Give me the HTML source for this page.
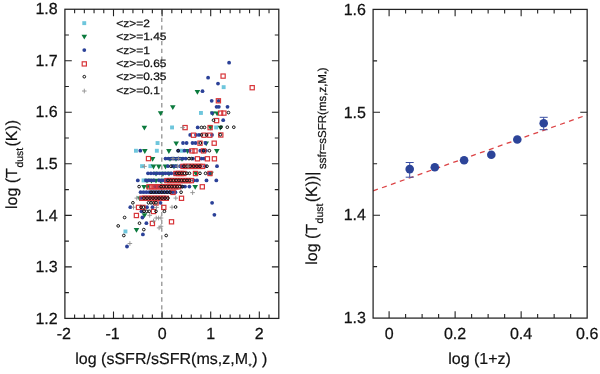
<!DOCTYPE html>
<html><head><meta charset="utf-8"><title>Figure</title>
<style>html,body{margin:0;padding:0;background:#fff}svg{display:block;will-change:transform;text-rendering:geometricPrecision}</style></head>
<body>
<svg width="600" height="374" viewBox="0 0 600 374" font-family='"Liberation Sans", sans-serif' fill="#111">
<rect width="600" height="374" fill="#fff"/>
<path d="M161.80 317.2 V9.25" stroke="#8e8e8e" stroke-width="1.25" stroke-dasharray="4.3 3.47" fill="none"/>
<path d="M74.62 318.4v-4.0M74.62 9.25v4.0M84.34 318.4v-4.0M84.34 9.25v4.0M94.06 318.4v-4.0M94.06 9.25v4.0M103.78 318.4v-4.0M103.78 9.25v4.0M113.50 318.4v-6.9M113.50 9.25v6.9M123.22 318.4v-4.0M123.22 9.25v4.0M132.94 318.4v-4.0M132.94 9.25v4.0M142.66 318.4v-4.0M142.66 9.25v4.0M152.38 318.4v-4.0M152.38 9.25v4.0M162.10 318.4v-6.9M162.10 9.25v6.9M171.82 318.4v-4.0M171.82 9.25v4.0M181.54 318.4v-4.0M181.54 9.25v4.0M191.26 318.4v-4.0M191.26 9.25v4.0M200.98 318.4v-4.0M200.98 9.25v4.0M210.70 318.4v-6.9M210.70 9.25v6.9M220.42 318.4v-4.0M220.42 9.25v4.0M230.14 318.4v-4.0M230.14 9.25v4.0M239.86 318.4v-4.0M239.86 9.25v4.0M249.58 318.4v-4.0M249.58 9.25v4.0M259.30 318.4v-6.9M259.30 9.25v6.9M269.02 318.4v-4.0M269.02 9.25v4.0M64.9 292.64h4.0M278.8 292.64h-4.0M64.9 266.87h6.9M278.8 266.87h-6.9M64.9 241.11h4.0M278.8 241.11h-4.0M64.9 215.35h6.9M278.8 215.35h-6.9M64.9 189.59h4.0M278.8 189.59h-4.0M64.9 163.82h6.9M278.8 163.82h-6.9M64.9 138.06h4.0M278.8 138.06h-4.0M64.9 112.30h6.9M278.8 112.30h-6.9M64.9 86.54h4.0M278.8 86.54h-4.0M64.9 60.77h6.9M278.8 60.77h-6.9M64.9 35.01h4.0M278.8 35.01h-4.0" stroke="#222" stroke-width="1.1" fill="none"/>
<rect x="64.9" y="9.25" width="213.90" height="309.15" fill="none" stroke="#222" stroke-width="1.25"/>
<g font-size="16px" stroke="#111" stroke-width="0.25">
<text transform="translate(57.7 323.5) scale(1.0 1)" text-anchor="end">1.2</text>
<text transform="translate(57.7 272.0) scale(1.0 1)" text-anchor="end">1.3</text>
<text transform="translate(57.7 220.5) scale(1.0 1)" text-anchor="end">1.4</text>
<text transform="translate(57.7 169.0) scale(1.0 1)" text-anchor="end">1.5</text>
<text transform="translate(57.7 117.4) scale(1.0 1)" text-anchor="end">1.6</text>
<text transform="translate(57.7 65.9) scale(1.0 1)" text-anchor="end">1.7</text>
<text transform="translate(57.7 14.4) scale(1.0 1)" text-anchor="end">1.8</text>
<text transform="translate(63.9 338.6) scale(1.0 1)" text-anchor="middle">-2</text>
<text transform="translate(112.5 338.6) scale(1.0 1)" text-anchor="middle">-1</text>
<text transform="translate(162.1 338.6) scale(1.0 1)" text-anchor="middle">0</text>
<text transform="translate(210.7 338.6) scale(1.0 1)" text-anchor="middle">1</text>
<text transform="translate(259.3 338.6) scale(1.0 1)" text-anchor="middle">2</text>
<text x="75.2" y="363.6" font-size="16px" letter-spacing="0.02" stroke="#111" stroke-width="0.2">log (sSFR/sSFR(ms,z,M<tspan font-size="8px" dy="5.5" dx="0.4">*</tspan><tspan dy="-5.5" dx="0.6">) )</tspan></text>
<text transform="translate(16.5 209) rotate(-90)" font-size="16px" stroke="#111" stroke-width="0.2">log (T<tspan font-size="10.5px" dy="6" dx="0.5">dust</tspan><tspan dy="-6" dx="1.2">(K))</tspan></text>
</g>
<g font-size="10.7px" stroke-width="0.25">
<rect x="82.3" y="21.2" width="3.9" height="3.9" fill="#6ec6dc"/>
<text stroke="#111" transform="translate(116.2 26.6) scale(1.12 1)">&lt;z&gt;=2</text>
<path d="M81.5 34.8h5.6L84.3 39.6z" fill="#0b7a3d"/>
<text stroke="#111" transform="translate(116.2 40.4) scale(1.12 1)">&lt;z&gt;=1.45</text>
<circle cx="84.3" cy="50.1" r="1.9" fill="#2b4198"/>
<text stroke="#111" transform="translate(116.2 53.5) scale(1.12 1)">&lt;z&gt;=1</text>
<rect x="82.2" y="61.8" width="4.2" height="4.2" fill="none" stroke="#d8363a" stroke-width="1.2"/>
<text stroke="#111" transform="translate(116.2 67.3) scale(1.12 1)">&lt;z&gt;=0.65</text>
<circle cx="84.3" cy="76.7" r="1.35" fill="none" stroke="#111" stroke-width="1.0"/>
<text stroke="#111" transform="translate(116.2 80.1) scale(1.12 1)">&lt;z&gt;=0.35</text>
<path d="M82.0 91.0h4.6M84.3 88.7v4.6" stroke="#8f8f8f" stroke-width="0.9" fill="none"/>
<text stroke="#111" transform="translate(116.2 94.4) scale(1.12 1)">&lt;z&gt;=0.1</text>
</g>
<g><rect x="221.7" y="85.2" width="3.9" height="3.9" fill="#6ec6dc"/><rect x="199.0" y="111.0" width="3.9" height="3.9" fill="#6ec6dc"/><rect x="170.1" y="125.5" width="3.9" height="3.9" fill="#6ec6dc"/><rect x="214.2" y="125.5" width="3.9" height="3.9" fill="#6ec6dc"/><rect x="155.6" y="141.1" width="3.9" height="3.9" fill="#6ec6dc"/><rect x="134.0" y="148.8" width="3.9" height="3.9" fill="#6ec6dc"/><rect x="154.9" y="148.8" width="3.9" height="3.9" fill="#6ec6dc"/><rect x="179.6" y="148.8" width="3.9" height="3.9" fill="#6ec6dc"/><rect x="140.1" y="164.2" width="3.9" height="3.9" fill="#6ec6dc"/><rect x="148.4" y="164.2" width="3.9" height="3.9" fill="#6ec6dc"/><rect x="141.6" y="178.5" width="3.9" height="3.9" fill="#6ec6dc"/><rect x="123.5" y="229.5" width="3.9" height="3.9" fill="#6ec6dc"/></g>
<g><path d="M194.6 89.9h5.6L197.4 94.7z" fill="#0b7a3d"/><path d="M170.0 105.2h5.6L172.8 110.0z" fill="#0b7a3d"/><path d="M157.8 111.3h5.6L160.6 116.1z" fill="#0b7a3d"/><path d="M210.0 111.4h5.6L212.8 116.2z" fill="#0b7a3d"/><path d="M214.3 111.4h5.6L217.1 116.2z" fill="#0b7a3d"/><path d="M141.6 125.8h5.6L144.4 130.6z" fill="#0b7a3d"/><path d="M217.6 125.8h5.6L220.4 130.6z" fill="#0b7a3d"/><path d="M207.8 125.8h5.6L210.6 130.6z" fill="#0b7a3d"/><path d="M173.4 141.4h5.6L176.2 146.2z" fill="#0b7a3d"/><path d="M203.4 141.4h5.6L206.2 146.2z" fill="#0b7a3d"/><path d="M142.0 149.1h5.6L144.8 153.9z" fill="#0b7a3d"/><path d="M166.1 149.1h5.6L168.9 153.9z" fill="#0b7a3d"/><path d="M184.7 149.1h5.6L187.5 153.9z" fill="#0b7a3d"/><path d="M214.0 149.1h5.6L216.8 153.9z" fill="#0b7a3d"/><path d="M149.8 157.0h5.6L152.6 161.8z" fill="#0b7a3d"/><path d="M167.2 157.0h5.6L170.0 161.8z" fill="#0b7a3d"/><path d="M173.2 157.0h5.6L176.0 161.8z" fill="#0b7a3d"/><path d="M179.2 157.0h5.6L182.0 161.8z" fill="#0b7a3d"/><path d="M150.7 164.6h5.6L153.5 169.4z" fill="#0b7a3d"/><path d="M156.0 164.6h5.6L158.8 169.4z" fill="#0b7a3d"/><path d="M162.7 164.6h5.6L165.5 169.4z" fill="#0b7a3d"/><path d="M171.2 164.6h5.6L174.0 169.4z" fill="#0b7a3d"/><path d="M193.2 171.7h5.6L196.0 176.5z" fill="#0b7a3d"/><path d="M208.2 171.7h5.6L211.0 176.5z" fill="#0b7a3d"/><path d="M153.2 171.7h5.6L156.0 176.5z" fill="#0b7a3d"/><path d="M160.2 171.7h5.6L163.0 176.5z" fill="#0b7a3d"/><path d="M166.2 171.7h5.6L169.0 176.5z" fill="#0b7a3d"/><path d="M144.2 178.8h5.6L147.0 183.6z" fill="#0b7a3d"/><path d="M148.7 178.8h5.6L151.5 183.6z" fill="#0b7a3d"/><path d="M153.2 178.8h5.6L156.0 183.6z" fill="#0b7a3d"/><path d="M157.7 178.8h5.6L160.5 183.6z" fill="#0b7a3d"/><path d="M162.2 178.8h5.6L165.0 183.6z" fill="#0b7a3d"/><path d="M141.2 185.0h5.6L144.0 189.8z" fill="#0b7a3d"/><path d="M144.7 185.0h5.6L147.5 189.8z" fill="#0b7a3d"/><path d="M192.4 185.0h5.6L195.2 189.8z" fill="#0b7a3d"/><path d="M136.8 196.5h5.6L139.6 201.3z" fill="#0b7a3d"/><path d="M141.7 213.3h5.6L144.5 218.1z" fill="#0b7a3d"/><path d="M133.7 228.0h5.6L136.5 232.8z" fill="#0b7a3d"/></g>
<g><circle cx="229.1" cy="62.7" r="1.9" fill="#2b4198"/><circle cx="208.1" cy="77.7" r="1.9" fill="#2b4198"/><circle cx="218.0" cy="83.6" r="1.9" fill="#2b4198"/><circle cx="202.5" cy="91.2" r="1.9" fill="#2b4198"/><circle cx="211.7" cy="100.8" r="1.9" fill="#2b4198"/><circle cx="218.6" cy="100.8" r="1.9" fill="#2b4198"/><circle cx="216.6" cy="106.8" r="1.9" fill="#2b4198"/><circle cx="218.8" cy="106.8" r="1.9" fill="#2b4198"/><circle cx="227.5" cy="106.8" r="1.9" fill="#2b4198"/><circle cx="212.0" cy="113.1" r="1.9" fill="#2b4198"/><circle cx="223.2" cy="120.2" r="1.9" fill="#2b4198"/><circle cx="197.7" cy="127.4" r="1.9" fill="#2b4198"/><circle cx="190.2" cy="134.9" r="1.9" fill="#2b4198"/><circle cx="196.0" cy="134.9" r="1.9" fill="#2b4198"/><circle cx="199.0" cy="134.9" r="1.9" fill="#2b4198"/><circle cx="212.0" cy="134.9" r="1.9" fill="#2b4198"/><circle cx="183.0" cy="143.0" r="1.9" fill="#2b4198"/><circle cx="186.6" cy="143.0" r="1.9" fill="#2b4198"/><circle cx="192.5" cy="143.0" r="1.9" fill="#2b4198"/><circle cx="195.5" cy="143.0" r="1.9" fill="#2b4198"/><circle cx="205.5" cy="143.0" r="1.9" fill="#2b4198"/><circle cx="140.3" cy="150.7" r="1.9" fill="#2b4198"/><circle cx="178.2" cy="150.7" r="1.9" fill="#2b4198"/><circle cx="184.5" cy="150.7" r="1.9" fill="#2b4198"/><circle cx="189.5" cy="150.7" r="1.9" fill="#2b4198"/><circle cx="200.3" cy="150.7" r="1.9" fill="#2b4198"/><circle cx="203.0" cy="150.7" r="1.9" fill="#2b4198"/><circle cx="205.8" cy="150.7" r="1.9" fill="#2b4198"/><circle cx="165.5" cy="158.6" r="1.9" fill="#2b4198"/><circle cx="168.4" cy="158.6" r="1.9" fill="#2b4198"/><circle cx="171.3" cy="158.6" r="1.9" fill="#2b4198"/><circle cx="174.2" cy="158.6" r="1.9" fill="#2b4198"/><circle cx="177.1" cy="158.6" r="1.9" fill="#2b4198"/><circle cx="180.0" cy="158.6" r="1.9" fill="#2b4198"/><circle cx="182.9" cy="158.6" r="1.9" fill="#2b4198"/><circle cx="185.8" cy="158.6" r="1.9" fill="#2b4198"/><circle cx="193.0" cy="158.6" r="1.9" fill="#2b4198"/><circle cx="201.5" cy="158.6" r="1.9" fill="#2b4198"/><circle cx="204.0" cy="158.6" r="1.9" fill="#2b4198"/><circle cx="168.0" cy="166.2" r="1.9" fill="#2b4198"/><circle cx="173.0" cy="166.2" r="1.9" fill="#2b4198"/><circle cx="176.0" cy="166.2" r="1.9" fill="#2b4198"/><circle cx="180.0" cy="166.2" r="1.9" fill="#2b4198"/><circle cx="205.0" cy="166.2" r="1.9" fill="#2b4198"/><circle cx="217.0" cy="166.2" r="1.9" fill="#2b4198"/><circle cx="182.0" cy="166.2" r="1.9" fill="#2b4198"/><circle cx="186.0" cy="166.2" r="1.9" fill="#2b4198"/><circle cx="190.0" cy="166.2" r="1.9" fill="#2b4198"/><circle cx="194.0" cy="166.2" r="1.9" fill="#2b4198"/><circle cx="198.0" cy="166.2" r="1.9" fill="#2b4198"/><circle cx="148.0" cy="173.3" r="1.9" fill="#2b4198"/><circle cx="150.9" cy="173.3" r="1.9" fill="#2b4198"/><circle cx="153.8" cy="173.3" r="1.9" fill="#2b4198"/><circle cx="156.7" cy="173.3" r="1.9" fill="#2b4198"/><circle cx="159.6" cy="173.3" r="1.9" fill="#2b4198"/><circle cx="162.5" cy="173.3" r="1.9" fill="#2b4198"/><circle cx="165.4" cy="173.3" r="1.9" fill="#2b4198"/><circle cx="168.3" cy="173.3" r="1.9" fill="#2b4198"/><circle cx="171.2" cy="173.3" r="1.9" fill="#2b4198"/><circle cx="174.1" cy="173.3" r="1.9" fill="#2b4198"/><circle cx="209.0" cy="173.3" r="1.9" fill="#2b4198"/><circle cx="137.8" cy="180.4" r="1.9" fill="#2b4198"/><circle cx="194.0" cy="180.4" r="1.9" fill="#2b4198"/><circle cx="197.0" cy="180.4" r="1.9" fill="#2b4198"/><circle cx="206.5" cy="180.4" r="1.9" fill="#2b4198"/><circle cx="216.3" cy="180.4" r="1.9" fill="#2b4198"/><circle cx="146.0" cy="180.4" r="1.9" fill="#2b4198"/><circle cx="148.6" cy="180.4" r="1.9" fill="#2b4198"/><circle cx="151.2" cy="180.4" r="1.9" fill="#2b4198"/><circle cx="153.8" cy="180.4" r="1.9" fill="#2b4198"/><circle cx="159.0" cy="180.4" r="1.9" fill="#2b4198"/><circle cx="161.6" cy="180.4" r="1.9" fill="#2b4198"/><circle cx="164.2" cy="180.4" r="1.9" fill="#2b4198"/><circle cx="166.8" cy="180.4" r="1.9" fill="#2b4198"/><circle cx="155.0" cy="186.6" r="1.9" fill="#2b4198"/><circle cx="158.0" cy="186.6" r="1.9" fill="#2b4198"/><circle cx="182.0" cy="186.6" r="1.9" fill="#2b4198"/><circle cx="185.0" cy="186.6" r="1.9" fill="#2b4198"/><circle cx="189.4" cy="186.6" r="1.9" fill="#2b4198"/><circle cx="140.6" cy="192.2" r="1.9" fill="#2b4198"/><circle cx="143.5" cy="192.2" r="1.9" fill="#2b4198"/><circle cx="146.4" cy="192.2" r="1.9" fill="#2b4198"/><circle cx="149.3" cy="192.2" r="1.9" fill="#2b4198"/><circle cx="152.2" cy="192.2" r="1.9" fill="#2b4198"/><circle cx="155.1" cy="192.2" r="1.9" fill="#2b4198"/><circle cx="158.0" cy="192.2" r="1.9" fill="#2b4198"/><circle cx="160.9" cy="192.2" r="1.9" fill="#2b4198"/><circle cx="163.8" cy="192.2" r="1.9" fill="#2b4198"/><circle cx="166.7" cy="192.2" r="1.9" fill="#2b4198"/><circle cx="169.6" cy="192.2" r="1.9" fill="#2b4198"/><circle cx="172.5" cy="192.2" r="1.9" fill="#2b4198"/><circle cx="175.4" cy="192.2" r="1.9" fill="#2b4198"/><circle cx="141.0" cy="198.1" r="1.9" fill="#2b4198"/><circle cx="158.0" cy="198.1" r="1.9" fill="#2b4198"/><circle cx="165.0" cy="198.1" r="1.9" fill="#2b4198"/><circle cx="160.5" cy="202.8" r="1.9" fill="#2b4198"/><circle cx="212.1" cy="202.8" r="1.9" fill="#2b4198"/><circle cx="130.3" cy="207.2" r="1.9" fill="#2b4198"/><circle cx="147.0" cy="207.2" r="1.9" fill="#2b4198"/><circle cx="152.5" cy="207.2" r="1.9" fill="#2b4198"/><circle cx="141.5" cy="211.3" r="1.9" fill="#2b4198"/><circle cx="142.4" cy="217.5" r="1.9" fill="#2b4198"/><circle cx="146.4" cy="223.2" r="1.9" fill="#2b4198"/><circle cx="142.9" cy="234.4" r="1.9" fill="#2b4198"/><circle cx="127.0" cy="246.5" r="1.9" fill="#2b4198"/><circle cx="214.4" cy="214.8" r="1.9" fill="#2b4198"/></g>
<g><rect x="221.0" y="74.0" width="4.2" height="4.2" fill="none" stroke="#d8363a" stroke-width="1.2"/><rect x="250.1" y="85.6" width="4.2" height="4.2" fill="none" stroke="#d8363a" stroke-width="1.2"/><rect x="216.3" y="98.7" width="4.2" height="4.2" fill="none" stroke="#d8363a" stroke-width="1.2"/><rect x="218.5" y="111.0" width="4.2" height="4.2" fill="none" stroke="#d8363a" stroke-width="1.2"/><rect x="221.8" y="111.0" width="4.2" height="4.2" fill="none" stroke="#d8363a" stroke-width="1.2"/><rect x="214.5" y="118.5" width="4.2" height="4.2" fill="none" stroke="#d8363a" stroke-width="1.2"/><rect x="183.0" y="125.5" width="4.2" height="4.2" fill="none" stroke="#d8363a" stroke-width="1.2"/><rect x="208.0" y="125.5" width="4.2" height="4.2" fill="none" stroke="#d8363a" stroke-width="1.2"/><rect x="191.4" y="133.1" width="4.2" height="4.2" fill="none" stroke="#d8363a" stroke-width="1.2"/><rect x="201.9" y="133.1" width="4.2" height="4.2" fill="none" stroke="#d8363a" stroke-width="1.2"/><rect x="207.7" y="133.1" width="4.2" height="4.2" fill="none" stroke="#d8363a" stroke-width="1.2"/><rect x="218.7" y="132.9" width="4.2" height="4.2" fill="none" stroke="#d8363a" stroke-width="1.2"/><rect x="197.9" y="141.1" width="4.2" height="4.2" fill="none" stroke="#d8363a" stroke-width="1.2"/><rect x="212.1" y="141.1" width="4.2" height="4.2" fill="none" stroke="#d8363a" stroke-width="1.2"/><rect x="189.9" y="148.8" width="4.2" height="4.2" fill="none" stroke="#d8363a" stroke-width="1.2"/><rect x="192.9" y="148.8" width="4.2" height="4.2" fill="none" stroke="#d8363a" stroke-width="1.2"/><rect x="201.4" y="148.8" width="4.2" height="4.2" fill="none" stroke="#d8363a" stroke-width="1.2"/><rect x="146.4" y="156.5" width="4.2" height="4.2" fill="none" stroke="#d8363a" stroke-width="1.2"/><rect x="195.4" y="156.7" width="4.2" height="4.2" fill="none" stroke="#d8363a" stroke-width="1.2"/><rect x="205.3" y="156.7" width="4.2" height="4.2" fill="none" stroke="#d8363a" stroke-width="1.2"/><rect x="212.3" y="156.7" width="4.2" height="4.2" fill="none" stroke="#d8363a" stroke-width="1.2"/><rect x="180.9" y="164.3" width="4.2" height="4.2" fill="none" stroke="#d8363a" stroke-width="1.2"/><rect x="183.7" y="164.3" width="4.2" height="4.2" fill="none" stroke="#d8363a" stroke-width="1.2"/><rect x="186.5" y="164.3" width="4.2" height="4.2" fill="none" stroke="#d8363a" stroke-width="1.2"/><rect x="189.3" y="164.3" width="4.2" height="4.2" fill="none" stroke="#d8363a" stroke-width="1.2"/><rect x="192.1" y="164.3" width="4.2" height="4.2" fill="none" stroke="#d8363a" stroke-width="1.2"/><rect x="194.9" y="164.3" width="4.2" height="4.2" fill="none" stroke="#d8363a" stroke-width="1.2"/><rect x="197.7" y="164.3" width="4.2" height="4.2" fill="none" stroke="#d8363a" stroke-width="1.2"/><rect x="200.5" y="164.3" width="4.2" height="4.2" fill="none" stroke="#d8363a" stroke-width="1.2"/><rect x="173.9" y="171.4" width="4.2" height="4.2" fill="none" stroke="#d8363a" stroke-width="1.2"/><rect x="176.5" y="171.4" width="4.2" height="4.2" fill="none" stroke="#d8363a" stroke-width="1.2"/><rect x="179.1" y="171.4" width="4.2" height="4.2" fill="none" stroke="#d8363a" stroke-width="1.2"/><rect x="181.7" y="171.4" width="4.2" height="4.2" fill="none" stroke="#d8363a" stroke-width="1.2"/><rect x="193.4" y="171.4" width="4.2" height="4.2" fill="none" stroke="#d8363a" stroke-width="1.2"/><rect x="207.9" y="171.4" width="4.2" height="4.2" fill="none" stroke="#d8363a" stroke-width="1.2"/><rect x="164.9" y="178.5" width="4.2" height="4.2" fill="none" stroke="#d8363a" stroke-width="1.2"/><rect x="167.6" y="178.5" width="4.2" height="4.2" fill="none" stroke="#d8363a" stroke-width="1.2"/><rect x="170.3" y="178.5" width="4.2" height="4.2" fill="none" stroke="#d8363a" stroke-width="1.2"/><rect x="173.0" y="178.5" width="4.2" height="4.2" fill="none" stroke="#d8363a" stroke-width="1.2"/><rect x="175.7" y="178.5" width="4.2" height="4.2" fill="none" stroke="#d8363a" stroke-width="1.2"/><rect x="178.4" y="178.5" width="4.2" height="4.2" fill="none" stroke="#d8363a" stroke-width="1.2"/><rect x="181.1" y="178.5" width="4.2" height="4.2" fill="none" stroke="#d8363a" stroke-width="1.2"/><rect x="183.8" y="178.5" width="4.2" height="4.2" fill="none" stroke="#d8363a" stroke-width="1.2"/><rect x="186.5" y="178.5" width="4.2" height="4.2" fill="none" stroke="#d8363a" stroke-width="1.2"/><rect x="189.2" y="178.5" width="4.2" height="4.2" fill="none" stroke="#d8363a" stroke-width="1.2"/><rect x="146.9" y="184.7" width="4.2" height="4.2" fill="none" stroke="#d8363a" stroke-width="1.2"/><rect x="149.6" y="184.7" width="4.2" height="4.2" fill="none" stroke="#d8363a" stroke-width="1.2"/><rect x="152.3" y="184.7" width="4.2" height="4.2" fill="none" stroke="#d8363a" stroke-width="1.2"/><rect x="155.0" y="184.7" width="4.2" height="4.2" fill="none" stroke="#d8363a" stroke-width="1.2"/><rect x="157.7" y="184.7" width="4.2" height="4.2" fill="none" stroke="#d8363a" stroke-width="1.2"/><rect x="160.4" y="184.7" width="4.2" height="4.2" fill="none" stroke="#d8363a" stroke-width="1.2"/><rect x="163.1" y="184.7" width="4.2" height="4.2" fill="none" stroke="#d8363a" stroke-width="1.2"/><rect x="165.8" y="184.7" width="4.2" height="4.2" fill="none" stroke="#d8363a" stroke-width="1.2"/><rect x="168.5" y="184.7" width="4.2" height="4.2" fill="none" stroke="#d8363a" stroke-width="1.2"/><rect x="171.2" y="184.7" width="4.2" height="4.2" fill="none" stroke="#d8363a" stroke-width="1.2"/><rect x="173.9" y="184.7" width="4.2" height="4.2" fill="none" stroke="#d8363a" stroke-width="1.2"/><rect x="176.6" y="184.7" width="4.2" height="4.2" fill="none" stroke="#d8363a" stroke-width="1.2"/><rect x="200.2" y="184.7" width="4.2" height="4.2" fill="none" stroke="#d8363a" stroke-width="1.2"/><rect x="170.9" y="190.3" width="4.2" height="4.2" fill="none" stroke="#d8363a" stroke-width="1.2"/><rect x="139.9" y="196.2" width="4.2" height="4.2" fill="none" stroke="#d8363a" stroke-width="1.2"/><rect x="142.6" y="196.2" width="4.2" height="4.2" fill="none" stroke="#d8363a" stroke-width="1.2"/><rect x="145.3" y="196.2" width="4.2" height="4.2" fill="none" stroke="#d8363a" stroke-width="1.2"/><rect x="148.0" y="196.2" width="4.2" height="4.2" fill="none" stroke="#d8363a" stroke-width="1.2"/><rect x="150.7" y="196.2" width="4.2" height="4.2" fill="none" stroke="#d8363a" stroke-width="1.2"/><rect x="153.4" y="196.2" width="4.2" height="4.2" fill="none" stroke="#d8363a" stroke-width="1.2"/><rect x="156.1" y="196.2" width="4.2" height="4.2" fill="none" stroke="#d8363a" stroke-width="1.2"/><rect x="158.8" y="196.2" width="4.2" height="4.2" fill="none" stroke="#d8363a" stroke-width="1.2"/><rect x="161.5" y="196.2" width="4.2" height="4.2" fill="none" stroke="#d8363a" stroke-width="1.2"/><rect x="164.2" y="196.2" width="4.2" height="4.2" fill="none" stroke="#d8363a" stroke-width="1.2"/><rect x="179.4" y="196.2" width="4.2" height="4.2" fill="none" stroke="#d8363a" stroke-width="1.2"/><rect x="153.9" y="200.9" width="4.2" height="4.2" fill="none" stroke="#d8363a" stroke-width="1.2"/><rect x="136.4" y="205.3" width="4.2" height="4.2" fill="none" stroke="#d8363a" stroke-width="1.2"/><rect x="140.9" y="205.3" width="4.2" height="4.2" fill="none" stroke="#d8363a" stroke-width="1.2"/><rect x="161.7" y="205.3" width="4.2" height="4.2" fill="none" stroke="#d8363a" stroke-width="1.2"/><rect x="151.4" y="209.4" width="4.2" height="4.2" fill="none" stroke="#d8363a" stroke-width="1.2"/><rect x="134.3" y="213.4" width="4.2" height="4.2" fill="none" stroke="#d8363a" stroke-width="1.2"/><rect x="169.4" y="219.7" width="4.2" height="4.2" fill="none" stroke="#d8363a" stroke-width="1.2"/><rect x="150.3" y="221.4" width="4.2" height="4.2" fill="none" stroke="#d8363a" stroke-width="1.2"/></g>
<g><circle cx="228.5" cy="112.6" r="1.35" fill="none" stroke="#111" stroke-width="1.0"/><circle cx="213.5" cy="120.2" r="1.35" fill="none" stroke="#111" stroke-width="1.0"/><circle cx="201.5" cy="127.4" r="1.35" fill="none" stroke="#111" stroke-width="1.0"/><circle cx="204.5" cy="127.4" r="1.35" fill="none" stroke="#111" stroke-width="1.0"/><circle cx="221.0" cy="127.2" r="1.35" fill="none" stroke="#111" stroke-width="1.0"/><circle cx="227.3" cy="127.2" r="1.35" fill="none" stroke="#111" stroke-width="1.0"/><circle cx="233.8" cy="127.2" r="1.35" fill="none" stroke="#111" stroke-width="1.0"/><circle cx="201.5" cy="134.9" r="1.35" fill="none" stroke="#111" stroke-width="1.0"/><circle cx="206.5" cy="134.9" r="1.35" fill="none" stroke="#111" stroke-width="1.0"/><circle cx="220.3" cy="134.7" r="1.35" fill="none" stroke="#111" stroke-width="1.0"/><circle cx="200.3" cy="143.0" r="1.35" fill="none" stroke="#111" stroke-width="1.0"/><circle cx="178.2" cy="150.7" r="1.35" fill="none" stroke="#111" stroke-width="1.0"/><circle cx="203.6" cy="150.7" r="1.35" fill="none" stroke="#111" stroke-width="1.0"/><circle cx="209.4" cy="150.7" r="1.35" fill="none" stroke="#111" stroke-width="1.0"/><circle cx="189.0" cy="158.6" r="1.35" fill="none" stroke="#111" stroke-width="1.0"/><circle cx="191.5" cy="158.6" r="1.35" fill="none" stroke="#111" stroke-width="1.0"/><circle cx="184.0" cy="166.2" r="1.35" fill="none" stroke="#111" stroke-width="1.0"/><circle cx="187.2" cy="166.2" r="1.35" fill="none" stroke="#111" stroke-width="1.0"/><circle cx="190.4" cy="166.2" r="1.35" fill="none" stroke="#111" stroke-width="1.0"/><circle cx="193.6" cy="166.2" r="1.35" fill="none" stroke="#111" stroke-width="1.0"/><circle cx="196.8" cy="166.2" r="1.35" fill="none" stroke="#111" stroke-width="1.0"/><circle cx="200.0" cy="166.2" r="1.35" fill="none" stroke="#111" stroke-width="1.0"/><circle cx="171.0" cy="166.2" r="1.35" fill="none" stroke="#111" stroke-width="1.0"/><circle cx="207.0" cy="166.2" r="1.35" fill="none" stroke="#111" stroke-width="1.0"/><circle cx="176.5" cy="173.3" r="1.35" fill="none" stroke="#111" stroke-width="1.0"/><circle cx="179.1" cy="173.3" r="1.35" fill="none" stroke="#111" stroke-width="1.0"/><circle cx="181.7" cy="173.3" r="1.35" fill="none" stroke="#111" stroke-width="1.0"/><circle cx="184.3" cy="173.3" r="1.35" fill="none" stroke="#111" stroke-width="1.0"/><circle cx="186.9" cy="173.3" r="1.35" fill="none" stroke="#111" stroke-width="1.0"/><circle cx="189.5" cy="173.3" r="1.35" fill="none" stroke="#111" stroke-width="1.0"/><circle cx="200.0" cy="173.3" r="1.35" fill="none" stroke="#111" stroke-width="1.0"/><circle cx="205.5" cy="173.3" r="1.35" fill="none" stroke="#111" stroke-width="1.0"/><circle cx="168.0" cy="180.4" r="1.35" fill="none" stroke="#111" stroke-width="1.0"/><circle cx="170.7" cy="180.4" r="1.35" fill="none" stroke="#111" stroke-width="1.0"/><circle cx="173.4" cy="180.4" r="1.35" fill="none" stroke="#111" stroke-width="1.0"/><circle cx="176.1" cy="180.4" r="1.35" fill="none" stroke="#111" stroke-width="1.0"/><circle cx="178.8" cy="180.4" r="1.35" fill="none" stroke="#111" stroke-width="1.0"/><circle cx="181.5" cy="180.4" r="1.35" fill="none" stroke="#111" stroke-width="1.0"/><circle cx="184.2" cy="180.4" r="1.35" fill="none" stroke="#111" stroke-width="1.0"/><circle cx="186.9" cy="180.4" r="1.35" fill="none" stroke="#111" stroke-width="1.0"/><circle cx="189.6" cy="180.4" r="1.35" fill="none" stroke="#111" stroke-width="1.0"/><circle cx="139.1" cy="186.6" r="1.35" fill="none" stroke="#111" stroke-width="1.0"/><circle cx="161.0" cy="186.6" r="1.35" fill="none" stroke="#111" stroke-width="1.0"/><circle cx="163.7" cy="186.6" r="1.35" fill="none" stroke="#111" stroke-width="1.0"/><circle cx="166.4" cy="186.6" r="1.35" fill="none" stroke="#111" stroke-width="1.0"/><circle cx="169.1" cy="186.6" r="1.35" fill="none" stroke="#111" stroke-width="1.0"/><circle cx="171.8" cy="186.6" r="1.35" fill="none" stroke="#111" stroke-width="1.0"/><circle cx="174.5" cy="186.6" r="1.35" fill="none" stroke="#111" stroke-width="1.0"/><circle cx="177.2" cy="186.6" r="1.35" fill="none" stroke="#111" stroke-width="1.0"/><circle cx="179.9" cy="186.6" r="1.35" fill="none" stroke="#111" stroke-width="1.0"/><circle cx="182.6" cy="186.6" r="1.35" fill="none" stroke="#111" stroke-width="1.0"/><circle cx="151.0" cy="192.2" r="1.35" fill="none" stroke="#111" stroke-width="1.0"/><circle cx="153.7" cy="192.2" r="1.35" fill="none" stroke="#111" stroke-width="1.0"/><circle cx="156.4" cy="192.2" r="1.35" fill="none" stroke="#111" stroke-width="1.0"/><circle cx="159.1" cy="192.2" r="1.35" fill="none" stroke="#111" stroke-width="1.0"/><circle cx="161.8" cy="192.2" r="1.35" fill="none" stroke="#111" stroke-width="1.0"/><circle cx="164.5" cy="192.2" r="1.35" fill="none" stroke="#111" stroke-width="1.0"/><circle cx="167.2" cy="192.2" r="1.35" fill="none" stroke="#111" stroke-width="1.0"/><circle cx="169.9" cy="192.2" r="1.35" fill="none" stroke="#111" stroke-width="1.0"/><circle cx="181.1" cy="192.2" r="1.35" fill="none" stroke="#111" stroke-width="1.0"/><circle cx="144.0" cy="198.1" r="1.35" fill="none" stroke="#111" stroke-width="1.0"/><circle cx="147.0" cy="198.1" r="1.35" fill="none" stroke="#111" stroke-width="1.0"/><circle cx="150.0" cy="198.1" r="1.35" fill="none" stroke="#111" stroke-width="1.0"/><circle cx="153.0" cy="198.1" r="1.35" fill="none" stroke="#111" stroke-width="1.0"/><circle cx="156.0" cy="198.1" r="1.35" fill="none" stroke="#111" stroke-width="1.0"/><circle cx="159.0" cy="198.1" r="1.35" fill="none" stroke="#111" stroke-width="1.0"/><circle cx="162.0" cy="198.1" r="1.35" fill="none" stroke="#111" stroke-width="1.0"/><circle cx="165.0" cy="198.1" r="1.35" fill="none" stroke="#111" stroke-width="1.0"/><circle cx="168.0" cy="198.1" r="1.35" fill="none" stroke="#111" stroke-width="1.0"/><circle cx="132.9" cy="202.8" r="1.35" fill="none" stroke="#111" stroke-width="1.0"/><circle cx="148.5" cy="202.8" r="1.35" fill="none" stroke="#111" stroke-width="1.0"/><circle cx="151.0" cy="202.8" r="1.35" fill="none" stroke="#111" stroke-width="1.0"/><circle cx="153.5" cy="202.8" r="1.35" fill="none" stroke="#111" stroke-width="1.0"/><circle cx="156.0" cy="202.8" r="1.35" fill="none" stroke="#111" stroke-width="1.0"/><circle cx="141.0" cy="207.2" r="1.35" fill="none" stroke="#111" stroke-width="1.0"/><circle cx="143.5" cy="207.2" r="1.35" fill="none" stroke="#111" stroke-width="1.0"/><circle cx="175.6" cy="207.0" r="1.35" fill="none" stroke="#111" stroke-width="1.0"/><circle cx="144.0" cy="211.3" r="1.35" fill="none" stroke="#111" stroke-width="1.0"/><circle cx="146.7" cy="211.3" r="1.35" fill="none" stroke="#111" stroke-width="1.0"/><circle cx="149.2" cy="211.3" r="1.35" fill="none" stroke="#111" stroke-width="1.0"/><circle cx="156.0" cy="211.3" r="1.35" fill="none" stroke="#111" stroke-width="1.0"/><circle cx="164.4" cy="211.3" r="1.35" fill="none" stroke="#111" stroke-width="1.0"/><circle cx="124.6" cy="217.5" r="1.35" fill="none" stroke="#111" stroke-width="1.0"/><circle cx="139.5" cy="223.2" r="1.35" fill="none" stroke="#111" stroke-width="1.0"/><circle cx="118.2" cy="225.9" r="1.35" fill="none" stroke="#111" stroke-width="1.0"/><circle cx="143.8" cy="229.6" r="1.35" fill="none" stroke="#111" stroke-width="1.0"/><circle cx="123.8" cy="235.5" r="1.35" fill="none" stroke="#111" stroke-width="1.0"/><circle cx="166.2" cy="235.5" r="1.35" fill="none" stroke="#111" stroke-width="1.0"/></g>
<g><path d="M180.3 127.6h4.6M182.6 125.3v4.6" stroke="#8f8f8f" stroke-width="0.9" fill="none"/><path d="M170.7 158.6h4.6M173.0 156.3v4.6" stroke="#8f8f8f" stroke-width="0.9" fill="none"/><path d="M176.2 158.6h4.6M178.5 156.3v4.6" stroke="#8f8f8f" stroke-width="0.9" fill="none"/><path d="M142.2 166.4h4.6M144.5 164.1v4.6" stroke="#8f8f8f" stroke-width="0.9" fill="none"/><path d="M175.2 166.2h4.6M177.5 163.9v4.6" stroke="#8f8f8f" stroke-width="0.9" fill="none"/><path d="M185.7 166.2h4.6M188.0 163.9v4.6" stroke="#8f8f8f" stroke-width="0.9" fill="none"/><path d="M190.3 192.6h4.6M192.6 190.3v4.6" stroke="#8f8f8f" stroke-width="0.9" fill="none"/><path d="M134.5 198.1h4.6M136.8 195.8v4.6" stroke="#8f8f8f" stroke-width="0.9" fill="none"/><path d="M173.5 198.1h4.6M175.8 195.8v4.6" stroke="#8f8f8f" stroke-width="0.9" fill="none"/><path d="M131.2 207.2h4.6M133.5 204.9v4.6" stroke="#8f8f8f" stroke-width="0.9" fill="none"/><path d="M154.2 207.4h4.6M156.5 205.1v4.6" stroke="#8f8f8f" stroke-width="0.9" fill="none"/><path d="M169.7 207.2h4.6M172.0 204.9v4.6" stroke="#8f8f8f" stroke-width="0.9" fill="none"/><path d="M147.4 215.3h4.6M149.7 213.0v4.6" stroke="#8f8f8f" stroke-width="0.9" fill="none"/><path d="M153.9 218.0h4.6M156.2 215.7v4.6" stroke="#8f8f8f" stroke-width="0.9" fill="none"/><path d="M156.3 218.0h4.6M158.6 215.7v4.6" stroke="#8f8f8f" stroke-width="0.9" fill="none"/><path d="M158.7 218.0h4.6M161.0 215.7v4.6" stroke="#8f8f8f" stroke-width="0.9" fill="none"/><path d="M151.2 221.0h4.6M153.5 218.7v4.6" stroke="#8f8f8f" stroke-width="0.9" fill="none"/><path d="M156.8 227.9h4.6M159.1 225.6v4.6" stroke="#8f8f8f" stroke-width="0.9" fill="none"/><path d="M158.7 226.3h4.6M161.0 224.0v4.6" stroke="#8f8f8f" stroke-width="0.9" fill="none"/><path d="M127.6 243.5h4.6M129.9 241.2v4.6" stroke="#8f8f8f" stroke-width="0.9" fill="none"/></g>
<path d="M373.1 190.9L587.15 114.9" stroke="#dc4446" stroke-width="1.3" stroke-dasharray="5 4.45" fill="none"/>
<path d="M389.10 318.1v-6.9M389.10 9.4v6.9M405.61 318.1v-4.0M405.61 9.4v4.0M422.11 318.1v-4.0M422.11 9.4v4.0M438.62 318.1v-4.0M438.62 9.4v4.0M455.12 318.1v-6.9M455.12 9.4v6.9M471.62 318.1v-4.0M471.62 9.4v4.0M488.13 318.1v-4.0M488.13 9.4v4.0M504.64 318.1v-4.0M504.64 9.4v4.0M521.14 318.1v-6.9M521.14 9.4v6.9M537.64 318.1v-4.0M537.64 9.4v4.0M554.15 318.1v-4.0M554.15 9.4v4.0M570.66 318.1v-4.0M570.66 9.4v4.0M373.1 266.65h4.0M587.15 266.65h-4.0M373.1 215.20h6.9M587.15 215.20h-6.9M373.1 163.75h4.0M587.15 163.75h-4.0M373.1 112.30h6.9M587.15 112.30h-6.9M373.1 60.85h4.0M587.15 60.85h-4.0" stroke="#222" stroke-width="1.1" fill="none"/>
<rect x="373.1" y="9.4" width="214.05" height="308.70" fill="none" stroke="#222" stroke-width="1.25"/>
<g font-size="16px" stroke="#111" stroke-width="0.25">
<text transform="translate(365.9 323.2) scale(1.0 1)" text-anchor="end">1.3</text>
<text transform="translate(365.9 220.3) scale(1.0 1)" text-anchor="end">1.4</text>
<text transform="translate(365.9 117.5) scale(1.0 1)" text-anchor="end">1.5</text>
<text transform="translate(365.9 14.5) scale(1.0 1)" text-anchor="end">1.6</text>
<text transform="translate(389.1 338.6) scale(1.0 1)" text-anchor="middle">0</text>
<text transform="translate(455.1 338.6) scale(1.0 1)" text-anchor="middle">0.2</text>
<text transform="translate(521.1 338.6) scale(1.0 1)" text-anchor="middle">0.4</text>
<text transform="translate(587.2 338.6) scale(1.0 1)" text-anchor="middle">0.6</text>
<text x="448.2" y="363.6" font-size="16px" stroke="#111" stroke-width="0.2">log (1+z)</text>
<text transform="translate(316.8 264.8) rotate(-90)" font-size="16px" stroke="#111" stroke-width="0.2">log (T<tspan font-size="10.5px" dy="6" dx="0.5">dust</tspan><tspan dy="-6" dx="1.2">(K))|</tspan><tspan font-size="11.5px" dy="8.9" dx="2.6">ssfr=sSFR(ms,z,M</tspan><tspan font-size="7px" dy="3.5">*</tspan><tspan font-size="11.5px" dy="-3.5">)</tspan></text>
</g>
<path d="M409.7 162.5V177.2M405.7 162.5h8M405.7 177.2h8" stroke="#3a4fa3" stroke-width="1.0" fill="none"/>
<circle cx="409.7" cy="169.1" r="4.3" fill="#2c4499"/>
<circle cx="434.8" cy="167.2" r="4.3" fill="#2c4499"/>
<circle cx="464.1" cy="160.2" r="4.3" fill="#2c4499"/>
<circle cx="491.3" cy="154.7" r="4.3" fill="#2c4499"/>
<circle cx="517.3" cy="139.5" r="4.3" fill="#2c4499"/>
<path d="M543.7 117.3V129.7M539.7 117.3h8M539.7 129.7h8" stroke="#3a4fa3" stroke-width="1.0" fill="none"/>
<circle cx="543.7" cy="123.2" r="4.3" fill="#2c4499"/>
</svg>
</body></html>
